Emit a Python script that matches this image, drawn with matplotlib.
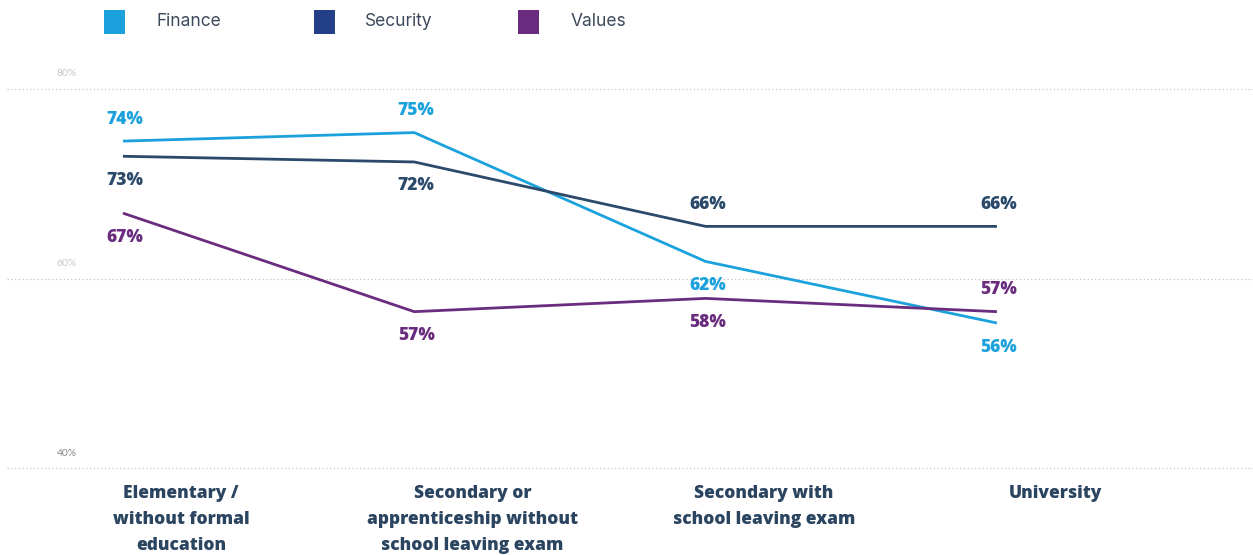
import matplotlib.pyplot as plt
from matplotlib.patches import Rectangle

# data
categories = ['Elementary /\nwithout formal\neducation',
              'Secondary or\napprenticeship without\nschool leaving exam',
              'Secondary with\nschool leaving exam',
              'University']
finance = [74.5, 75.4, 61.8, 55.3]
security = [72.9, 72.3, 65.5, 65.5]
values = [66.9, 56.5, 57.9, 56.5]
finance_lbl = ['74%', '75%', '62%', '56%']
security_lbl = ['73%', '72%', '66%', '66%']
values_lbl = ['67%', '57%', '58%', '57%']
yticks = [40, 60, 80]

c_fin = '#1ba1dc'
c_sec = '#2b4a6b'
c_sec_leg = '#223f88'
c_val = '#6a2c7e'
c_txt = '#2b4561'
bold_font = ['Open Sans', 'DejaVu Sans']

fig = plt.figure(figsize=(12.53, 5.55), dpi=100)
ax = fig.add_axes([7 / 1253, 1 - 468 / 555, 1246 / 1253, (468 - 89) / 555])
ax.set_xlim(-0.398, 3.879)
ax.set_ylim(40, 80)
ax.axis('off')

for t in yticks:
    ax.axhline(t, color='#c4c4c4', lw=0.9, ls=(0, (1, 2)), clip_on=False)
    ax.annotate(f'{t}%', (0, t), xycoords=('axes fraction', 'data'),
                xytext=(60, 15), textcoords='offset pixels', ha='center', va='center',
                fontsize=7.5, color='#8a8a8a' if t == 40 else '#c8c8c8', family='Lato')

x = list(range(len(categories)))
ax.plot(x, finance, color=c_fin, lw=2.0, solid_capstyle='butt')
ax.plot(x, security, color=c_sec, lw=2.0, solid_capstyle='butt')
ax.plot(x, values, color=c_val, lw=2.0, solid_capstyle='butt')

# label placement: up / down
fin_pos = ['up', 'up', 'down', 'down']
sec_pos = ['down', 'down', 'up', 'up']
val_pos = ['down', 'down', 'down', 'up']

for ys, lbls, pos, col in [(finance, finance_lbl, fin_pos, c_fin),
                           (security, security_lbl, sec_pos, c_sec),
                           (values, values_lbl, val_pos, c_val)]:
    for i in x:
        dy = 22 if pos[i] == 'up' else -24
        ax.annotate(lbls[i], (i, ys[i]), xytext=(2, dy), textcoords='offset pixels',
                    ha='center', va='center', fontsize=12.5, fontweight='heavy',
                    color=col, family=bold_font)

for i, c in enumerate(categories):
    ax.annotate(c, (i + 0.2, 40), xytext=(0, -17), textcoords='offset pixels',
                ha='center', va='top', fontsize=12.5, fontweight='heavy', color=c_txt,
                family=bold_font, linespacing=1.7)

# legend
for name, col, sx, tx in [('Finance', c_fin, 104, 157), ('Security', c_sec_leg, 314, 365),
                          ('Values', c_val, 518, 571)]:
    fig.add_artist(Rectangle((sx / 1253, 1 - 34 / 555), 21 / 1253, 24 / 555,
                             transform=fig.transFigure, color=col, lw=0))
    fig.text(tx / 1253, 1 - 22 / 555, name, ha='left', va='center', fontsize=12.5,
             color='#3d4a5c', family='Inter')

fig.savefig('out.png', dpi=100)
